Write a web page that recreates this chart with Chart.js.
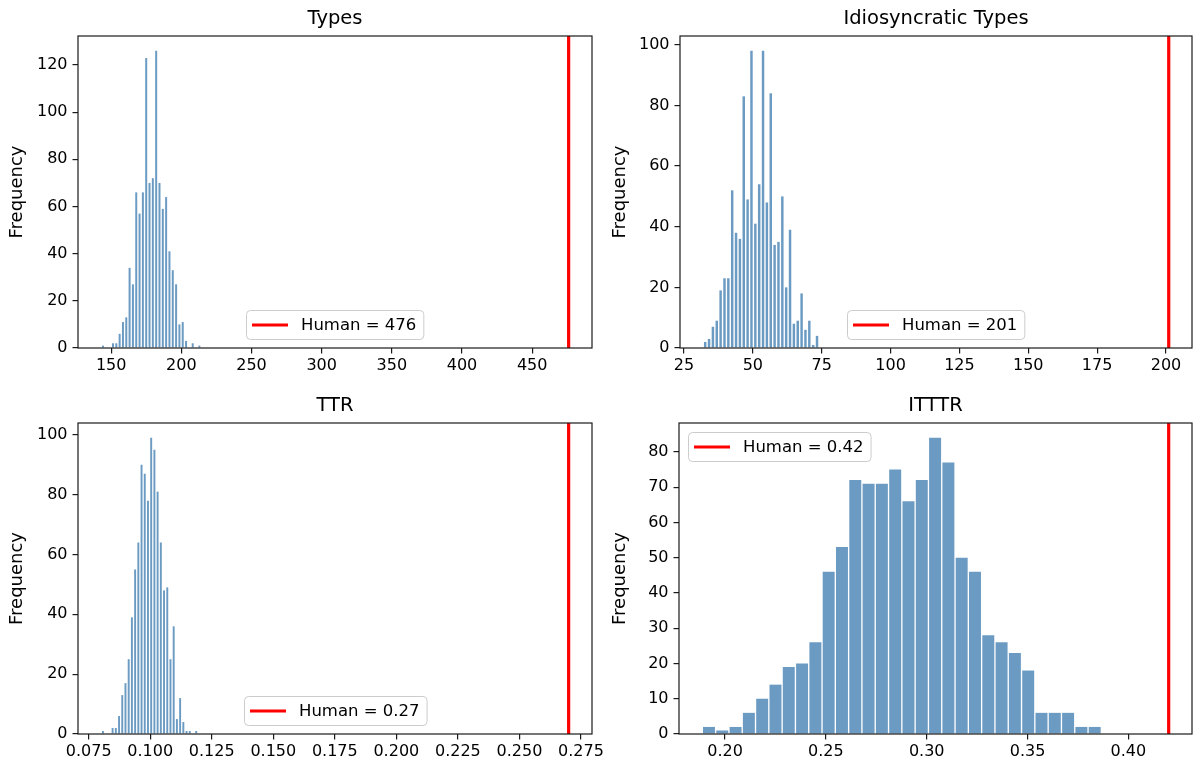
<!DOCTYPE html>
<html>
<head>
<meta charset="utf-8">
<script src="https://cdn.jsdelivr.net/npm/chart.js@4/dist/chart.umd.min.js"></script>
<style>
  html, body { margin: 0; padding: 0; background: #fff; }
  body { width: 1194px; height: 764px; position: relative; overflow: hidden; }
  canvas { position: absolute; }
</style>
</head>
<body>
<canvas id="types-chart"  width="620" height="382" style="left:0;top:0"></canvas>
<canvas id="idio-chart"   width="594" height="382" style="left:600px;top:0"></canvas>
<canvas id="ttr-chart"    width="620" height="377" style="left:0;top:387px"></canvas>
<canvas id="itttr-chart"  width="594" height="377" style="left:600px;top:387px"></canvas>
<script>
// histogram counts (30 bins each), bin grid, human reference value, ticks

const typesCounts   = [1,0,0,2,2,6,11,13,34,27,66,57,66,123,70,72,126,70,59,64,41,33,27,10,11,3,0,2,0,1];
const typesBinStart = 143, typesBinWidth = 2.367;
const typesHuman    = 476;
const typesXTicks   = ['150','200','250','300','350','400','450'];
const typesYTicks   = ['0','20','40','60','80','100','120'];

const idioCounts   = [2,3,7,9,19,23,23,52,38,36,83,49,98,41,54,98,48,84,34,35,50,20,39,8,9,18,6,9,1,4];
const idioBinStart = 32, idioBinWidth = 1.4;
const idioHuman    = 201;
const idioXTicks   = ['25','50','75','100','125','150','175','200'];
const idioYTicks   = ['0','20','40','60','80','100'];

const ttrCounts   = [1,0,0,2,2,6,13,17,25,39,55,64,90,87,78,99,95,81,64,48,49,25,36,5,12,4,1,1,0,1];
const ttrBinStart = 0.08015, ttrBinWidth = 0.001306;
const ttrHuman    = 0.27;
const ttrXTicks   = ['0.075','0.100','0.125','0.150','0.175','0.200','0.225','0.250','0.275'];
const ttrYTicks   = ['0','20','40','60','80','100'];

const itttrCounts   = [2,1,2,6,10,14,19,20,26,46,53,72,71,71,75,66,72,84,77,50,46,28,26,23,18,6,6,6,2,2];
const itttrBinStart = 0.18873, itttrBinWidth = 0.006596;
const itttrHuman    = 0.42;
const itttrXTicks   = ['0.20','0.25','0.30','0.35','0.40'];
const itttrYTicks   = ['0','10','20','30','40','50','60','70','80'];

Chart.defaults.font.family = '"DejaVu Sans", sans-serif';
Chart.defaults.font.size = 16;
Chart.defaults.color = '#000';

const BAR_FILL = 'rgba(70,130,180,0.8)';

// red reference line, box spines and the legend
const humanPlugin = {
  id: 'humanLine',
  afterDatasetsDraw(chart, args, opts) {
    const { ctx, chartArea: a, scales: { x } } = chart;
    const px = x.getPixelForValue(opts.value);
    ctx.save();
    ctx.beginPath();
    ctx.rect(a.left, a.top, a.right - a.left, a.bottom - a.top);
    ctx.clip();
    ctx.strokeStyle = '#ff0000';
    ctx.lineWidth = 3.2;
    ctx.beginPath();
    ctx.moveTo(px, a.top);
    ctx.lineTo(px, a.bottom);
    ctx.stroke();
    ctx.restore();
  },
  afterDraw(chart, args, opts) {
    const { ctx, chartArea: a } = chart;
    ctx.save();
    ctx.strokeStyle = '#1a1a1a';
    ctx.lineWidth = 1.2;
    ctx.strokeRect(a.left, a.top, a.right - a.left, a.bottom - a.top);

    ctx.font = '16.5px "DejaVu Sans"';
    const text = 'Human = ' + opts.label;
    const tw = ctx.measureText(text).width;
    const w = 55 + tw + 7, h = 29;
    let bx, by;
    if (opts.legend === 'upper left') { bx = a.left + 9; by = a.top + 9; }
    else { bx = Math.round((a.left + a.right) / 2 - w / 2); by = a.bottom - 9 - h; }
    ctx.beginPath();
    ctx.roundRect(bx + 0.5, by + 0.5, w, h, 4);
    ctx.fillStyle = 'rgba(255,255,255,0.8)';
    ctx.fill();
    ctx.strokeStyle = '#cccccc';
    ctx.lineWidth = 1;
    ctx.stroke();
    ctx.strokeStyle = '#ff0000';
    ctx.lineWidth = 3.2;
    ctx.beginPath();
    ctx.moveTo(bx + 6, by + h / 2 + 0.5);
    ctx.lineTo(bx + 42, by + h / 2 + 0.5);
    ctx.stroke();
    ctx.fillStyle = '#000';
    ctx.textBaseline = 'middle';
    ctx.fillText(text, bx + 55, by + h / 2 + 1);
    ctx.restore();
  }
};

function histogram(id, p) {
  const pts = p.counts.map((c, i) => ({ x: p.binStart + (i + 0.5) * p.binWidth, y: c }));
  const lo = p.binStart;
  const hi = Math.max(p.human, p.binStart + p.counts.length * p.binWidth);
  const m = (hi - lo) * 0.05;
  const yMax = Math.max(...p.counts) * 1.05;
  const tickGrid = { drawOnChartArea: false, drawTicks: true, tickLength: 5.5, color: '#1a1a1a', lineWidth: 1.2, offset: false };

  new Chart(document.getElementById(id), {
    type: 'bar',
    data: {
      datasets: [{
        data: pts,
        backgroundColor: BAR_FILL,
        borderWidth: 0,
        barPercentage: p.barPct,
        categoryPercentage: 1,
      }]
    },
    plugins: [humanPlugin],
    options: {
      responsive: false,
      animation: false,
      events: [],
      layout: { padding: { left: 0, right: p.padRight, top: 0, bottom: 0 } },
      plugins: {
        legend: { display: false },
        tooltip: { enabled: false },
        title: {
          display: true, text: p.title, fullSize: false, color: '#000',
          font: { size: 19.5, weight: 'normal', lineHeight: 1.2 },
          padding: { top: 7.5, bottom: 5.1 }
        },
        humanLine: { value: p.human, label: String(p.human), legend: p.legend }
      },
      scales: {
        x: {
          type: 'linear', offset: false,
          min: lo - m, max: hi + m,
          grid: tickGrid,
          border: { display: false },
          afterBuildTicks: s => { s.ticks = p.xTicks.map(t => ({ value: Number(t) })); },
          afterFit: s => { s.height = p.xH; },
          ticks: { padding: 3, maxRotation: 0, autoSkip: false, callback: (v, i) => p.xTicks[i] }
        },
        y: {
          min: 0, max: yMax,
          grid: tickGrid,
          border: { display: false },
          afterBuildTicks: s => { s.ticks = p.yTicks.map(t => ({ value: Number(t) })); },
          afterFit: s => { s.width = p.yW; },
          ticks: { padding: 5, autoSkip: false, callback: (v, i) => p.yTicks[i] },
          title: { display: true, text: 'Frequency', font: { size: 18 }, padding: { top: p.labelPad, bottom: 0 } }
        }
      }
    }
  });
}

histogram('types-chart', {
  title: 'Types', counts: typesCounts, binStart: typesBinStart, binWidth: typesBinWidth,
  human: typesHuman, xTicks: typesXTicks, yTicks: typesYTicks, legend: 'lower center',
  barPct: 0.6, yW: 78, padRight: 28, xH: 34, labelPad: 6.9
});
histogram('idio-chart', {
  title: 'Idiosyncratic Types', counts: idioCounts, binStart: idioBinStart, binWidth: idioBinWidth,
  human: idioHuman, xTicks: idioXTicks, yTicks: idioYTicks, legend: 'lower center',
  barPct: 0.64, yW: 80, padRight: 2, xH: 34, labelPad: 10
});
histogram('ttr-chart', {
  title: 'TTR', counts: ttrCounts, binStart: ttrBinStart, binWidth: ttrBinWidth,
  human: ttrHuman, xTicks: ttrXTicks, yTicks: ttrYTicks, legend: 'lower center',
  barPct: 0.6, yW: 78, padRight: 28, xH: 30, labelPad: 6.9
});
histogram('itttr-chart', {
  title: 'ITTTR', counts: itttrCounts, binStart: itttrBinStart, binWidth: itttrBinWidth,
  human: itttrHuman, xTicks: itttrXTicks, yTicks: itttrYTicks, legend: 'upper left',
  barPct: 0.9, yW: 79, padRight: 2, xH: 30, labelPad: 10
});
</script>
</body>
</html>
